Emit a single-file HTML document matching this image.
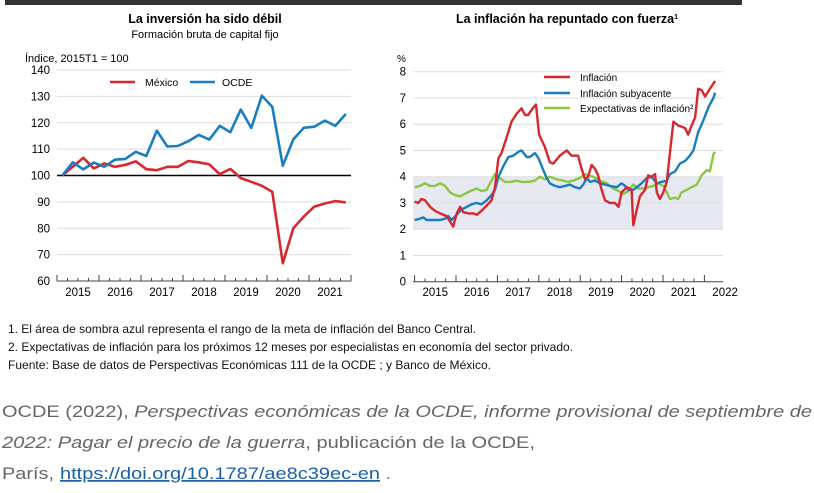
<!DOCTYPE html>
<html><head><meta charset="utf-8"><style>
body{margin:0;background:#fff;width:814px;height:493px;overflow:hidden}
svg{display:block;font-family:"Liberation Sans",Arial,sans-serif}
</style></head><body>
<svg width="814" height="493">
<rect x="5" y="0" width="737" height="5" fill="#333"/>
<text x="205" y="23" text-anchor="middle" font-size="12.5" font-weight="bold">La inversión ha sido débil</text>
<text x="205" y="38" text-anchor="middle" font-size="11">Formación bruta de capital fijo</text>
<text x="25" y="62" font-size="11">Índice, 2015T1 = 100</text>
<text x="567" y="23" text-anchor="middle" font-size="12.5" font-weight="bold">La inflación ha repuntado con fuerza<tspan font-size="7" dy="-4">1</tspan></text>
<text x="397" y="62" font-size="10">%</text>
<g id="left"></g>
<g id="right"></g>
<g font-size="12" fill="#111">
<text x="8" y="333" textLength="468" lengthAdjust="spacingAndGlyphs">1. El área de sombra azul representa el rango de la meta de inflación del Banco Central.</text>
<text x="8" y="351" textLength="565" lengthAdjust="spacingAndGlyphs">2. Expectativas de inflación para los próximos 12 meses por especialistas en economía del sector privado.</text>
<text x="8" y="369" textLength="483" lengthAdjust="spacingAndGlyphs">Fuente: Base de datos de Perspectivas Económicas 111 de la OCDE ; y Banco de México.</text>
</g>
<g font-size="17" fill="#666">
<text x="2" y="417" textLength="810" lengthAdjust="spacingAndGlyphs">OCDE (2022), <tspan font-style="italic">Perspectivas económicas de la OCDE, informe provisional de septiembre de</tspan></text>
<text x="2" y="448" textLength="533" lengthAdjust="spacingAndGlyphs"><tspan font-style="italic">2022: Pagar el precio de la guerra</tspan>, publicación de la OCDE,</text>
<text x="2" y="479" textLength="52" lengthAdjust="spacingAndGlyphs">París,</text>
<text x="60" y="479" textLength="320" lengthAdjust="spacingAndGlyphs" fill="#1a5fa8" text-decoration="underline">https://doi.org/10.1787/ae8c39ec-en</text>
<text x="386" y="479">.</text>
</g>
</svg>
<script>
const NS="http://www.w3.org/2000/svg";
// Left chart data (quarterly, 2015Q1..2021Q4)
const lYears=["2015","2016","2017","2018","2019","2020","2021"];
const lTicks=[60,70,80,90,100,110,120,130,140];
const mexico=[100,103.3,106.7,102.7,104.6,103.3,104,105.4,102.4,102,103.3,103.3,105.5,105,104.2,100.5,102.5,99,97.6,96.1,93.8,66.7,80,84.4,88.2,89.4,90.3,89.8];
const ocde=[100,105,102.3,104.9,103.3,106,106.3,109,107.4,117,111,111.2,113,115.4,113.6,118.8,116.4,125,118,130.3,126,103.7,113.7,118.1,118.5,120.8,118.8,123.3];
// Right chart data (month index since Jan 2015)
const rYears=["2015","2016","2017","2018","2019","2020","2021","2022"];
const rTicks=[0,1,2,3,4,5,6,7,8];
const infM=[0,1.1,2,3,4.5,5.9,7.4,9.3,10.7,11.2,12.2,13.2,14.1,15.6,17,18,19.4,20.9,22.3,23.3,24.3,25.2,26.7,28.1,29.6,31,32,32.9,33.9,35.2,36.1,37.7,39.2,40.2,42.1,44.1,45.5,46.5,47.4,48.4,49.4,50.3,51.3,52.3,53.2,54.2,55.2,56.6,58.1,59.1,60,61.5,62.9,63.4,64.4,65.3,66.8,67.7,68.7,69.7,70.2,71.1,72.1,73.1,74,75,76.4,77.4,78.4,79.3,80.3,81.3,82.2,83.2,84.2,85.6,87.1];
const infV=[3.05,3,3.15,3.1,2.85,2.7,2.6,2.5,2.2,2.1,2.6,2.85,2.65,2.6,2.6,2.55,2.7,2.9,3.1,3.6,4.7,4.9,5.5,6.1,6.4,6.6,6.35,6.35,6.55,6.75,5.6,5.15,4.55,4.5,4.8,5,4.8,4.8,4.8,4.3,3.9,4,4.45,4.3,4.05,3.5,3.1,3,3,2.85,3.4,3.6,3.5,2.15,2.75,3.25,3.5,4.05,4,4.1,3.4,3.15,3.4,3.8,4.9,6.1,5.95,5.9,5.85,5.6,5.95,6.25,7.35,7.3,7.05,7.35,7.65];
const subM=[0,1.6,2.5,3.5,5.4,7.4,8.8,9.8,10.7,12.2,13.6,15.1,16.5,18,19.4,20.9,22.3,23.3,24.3,25.7,27.2,28.6,30.1,31,32.5,33.4,34.9,35.9,37.3,38.3,39.2,40.7,42.1,43.6,45,46.5,47.9,48.9,49.9,50.8,52.3,53.7,55.2,56.6,58.6,60,61,61.9,63.4,64.4,65.8,67.3,68.7,70.2,71.6,73.1,74,75.5,76.9,78.4,79.8,80.8,82.2,83.7,85.2,86.6,87.1];
const subV=[2.35,2.4,2.45,2.35,2.35,2.35,2.4,2.5,2.35,2.55,2.75,2.85,2.95,3,2.95,3.1,3.3,3.5,4,4.4,4.75,4.8,4.95,5,4.75,4.75,4.9,4.7,4.25,3.95,3.75,3.65,3.6,3.65,3.7,3.6,3.55,3.7,3.95,3.8,3.85,3.75,3.7,3.65,3.6,3.75,3.65,3.5,3.5,3.6,3.75,3.95,4,3.75,3.8,3.85,4.1,4.2,4.5,4.6,4.8,5,5.7,6.15,6.65,7,7.2];
const expM=[0,1.6,3,4.5,5.9,7.4,8.8,10.3,11.7,13.2,14.6,16.1,18,19.4,20.9,22.3,23.3,24.7,26.2,28.1,29.6,31,32.9,34.9,36.3,37.8,39.2,41.1,43.1,44.5,46,47.9,49.4,50.3,51.8,53.7,55.7,57.6,59.1,60.5,62,63.4,64.8,66.3,67.7,69.2,70.6,72.1,73.1,74,75.5,76.4,77.4,78.9,80.3,81.8,83.2,84.7,85.6,86.6,87.1];
const expV=[3.6,3.65,3.75,3.65,3.65,3.75,3.65,3.4,3.3,3.25,3.35,3.45,3.55,3.45,3.5,3.85,4.1,3.95,3.8,3.8,3.85,3.8,3.8,3.85,4,3.9,4,3.9,3.85,3.8,3.85,3.95,4.1,4.05,4,3.85,3.75,3.55,3.45,3.35,3.45,3.7,3.55,3.55,3.6,3.65,3.75,3.65,3.4,3.15,3.2,3.15,3.4,3.5,3.6,3.7,4.05,4.25,4.2,4.85,4.95];

function mk(p,tag,a){const e=document.createElementNS(NS,tag);for(const k in a)e.setAttribute(k,a[k]);p.appendChild(e);return e;}
function poly(xs,ys,fx,fy){return xs.map((x,i)=>fx(x).toFixed(1)+","+fy(ys[i]).toFixed(1)).join(" ");}

// LEFT
const L=document.getElementById('left');
const lx0=57,lx1=351,qw=10.5;
const lxq=i=>lx0+qw*(i+0.5);
const ly=v=>281-(v-60)*(211/80);
lTicks.forEach(t=>{
  const g=mk(L,'line',{x1:lx0,x2:lx1,y1:ly(t),y2:ly(t),stroke:t===100?'#000':(t===60?'#444':'#ddd'),'stroke-width':t===100?1.6:1});
  
  
  const tx=mk(L,'text',{x:50,y:ly(t)+4,'text-anchor':'end','font-size':11.5});
  tx.textContent=t;
  
  
});
for(let i=0;i<=lYears.length*4;i++){
  const x=lx0+qw*i;
  const tk=mk(L,'line',{x1:x,x2:x,y1:281,y2:i%4===0?275:278,stroke:'#444'});
  
  
}
lYears.forEach((y,k)=>{
  const tx=mk(L,'text',{x:lx0+42*k+21,y:296,'text-anchor':'middle','font-size':11.5});
  tx.textContent=y;
  
  
});
const idx=mexico.map((_,i)=>i);
const pm=mk(L,'polyline',{points:poly(idx,mexico,lxq,ly),fill:'none',stroke:'#d7282f','stroke-width':2.6,'stroke-linejoin':'round'});


const po=mk(L,'polyline',{points:poly(idx,ocde,lxq,ly),fill:'none',stroke:'#1a7dc0','stroke-width':2.6,'stroke-linejoin':'round'});


[[110,'#d7282f','México',145],[190,'#1a7dc0','OCDE',222]].forEach(([x,c,n,tx0])=>{
  const l=mk(L,'line',{x1:x,x2:x+25,y1:82,y2:82,stroke:c,'stroke-width':2.6});
  
  
  const t=mk(L,'text',{x:tx0,y:86,'font-size':10.5});
  t.textContent=n;
  
  
});

// RIGHT
const R=document.getElementById('right');
const rx0=413,rx1=723;
const rx=m=>414.6+m*41.4/12;
const ry=v=>281.7-v*26.25;
const band=mk(R,'rect',{x:rx0,y:ry(4),width:rx1-rx0,height:ry(2)-ry(4),fill:'#e6e9f1'});


rTicks.forEach(t=>{
  const g=mk(R,'line',{x1:rx0,x2:rx1,y1:ry(t),y2:ry(t),stroke:t===0?'#444':'#ddd'});
  
  
  const tx=mk(R,'text',{x:406,y:ry(t)+4,'text-anchor':'end','font-size':11.5});
  tx.textContent=t;
  
  
});
for(let m=0;m<=7*12;m+=3){
  const x=rx(m);
  const tk=mk(R,'line',{x1:x,x2:x,y1:281.7,y2:m%12===0?275:278.5,stroke:'#444'});
  
  
}
rYears.forEach((y,k)=>{
  const tx=mk(R,'text',{x:rx(12*k+6),y:296,'text-anchor':'middle','font-size':11.5});
  tx.textContent=y;
  
  
});
const ser=[[expM,expV,'#8cc63f','expectations-line'],[subM,subV,'#1a7dc0','core-inflation-line'],[infM,infV,'#d7282f','inflation-line']];
ser.forEach(([m,v,c,n])=>{
  const p=mk(R,'polyline',{points:poly(m,v,rx,ry),fill:'none',stroke:c,'stroke-width':2.4,'stroke-linejoin':'round'});
  
  
});
[['#d7282f','Inflación',77],['#1a7dc0','Inflación subyacente',93],['#8cc63f','Expectativas de inflación²',108]].forEach(([c,n,y])=>{
  const l=mk(R,'line',{x1:544,x2:570,y1:y,y2:y,stroke:c,'stroke-width':2.6});
  
  
  const t=mk(R,'text',{x:580,y:y+4,'font-size':10});
  t.textContent=n;
  
  
});
</script>
</body></html>
